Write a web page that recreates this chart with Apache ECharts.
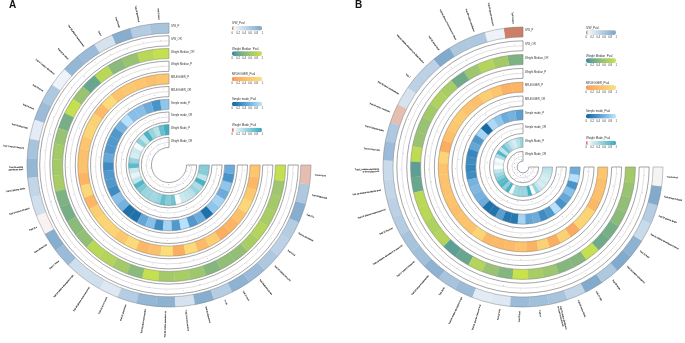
<!DOCTYPE html>
<html><head><meta charset="utf-8">
<script src="https://cdn.jsdelivr.net/npm/echarts@6/dist/echarts.min.js"></script>
<style>html,body{margin:0;padding:0;background:#fff}#c{width:685px;height:343px}</style>
</head><body><div id="c"></div>
<script>
const trackNames=["Weight Mode_OR","Weight Mode_P","Simple mode_OR","Simple mode_P","MR-EGGER_OR","MR-EGGER_P","Weight Median_P","Weight Median_OR","IVW_OR","IVW_P"];
const legendNames=["IVW_Pval","Weight Median_Pval","MR-EGGER_Pval","Simple mode_Pval","Weight Mode_Pval"];
const legendTicks=["0","0.2","0.4","0.6","0.8","1"];

// PLACEHOLDER TEXT: the radial labels are illegible in the reference. Only their length and position follow it.
const aLabels=["Trait 01 level","Trait 02 blood level","Trait 03 ratio","Trait 4","Trait 05 plasma measurement","Trait 06 in serum","Trait 07 relative abundance","Trait 08 count","Trait 09 levels","Trait 10 blood ratio","Trait 11 serum measure","Trait 12 relative\nabundance level","Trait 13 plasma levels","Trait 14 serum measure","Trait 15 x","Trait 16 blood lvl","Trait 17 levels","Trait 18 relative abundance in gut","Trait 19 plasma measurement lvl","Trait 20 serum levels","Trait 21 abundance","Trait 22 blood concentration","Trait 23 relative abundance lvl","Trait 24 serum measure","Trait 25 abundance","Tr. 26","Trait 27 level","Trait 28 plasma levels","Trait 29 relative amounts","Trait 30 lvl","Trait 31 abundance","Trait 32 x","Trait 33 blood lvls","Trait 34 level"];
const bLabels=["Trait 01 level","Trait 02 plasma measure lv","Trait 03 relative abundance","Trait 04 plasma measurement in blood","Trait 05 serum level","Trait 06 relative abundance in blood plasma","Trait 7","Trait 08 blood concentration","Trait 09 serum measures","Trait 10 plasma levels","Trait 11 blood ratio","Trait 12 relative abundance\nin blood plasma lvl","Trait 13 relative abundance level","Trait 14 plasma measurement lvl","Trait 15 blood lvl","Trait 16 relative abundance in serum lvl","Trait 17 plasma measures","Trait 18 serum measurement","Trait 19 lvl","Trait 20 relative abundance in gut","Trait 21 plasma measure level","Trait 22 ratio","Trait 23 level","Trait 24","Trait 25 relative abundance\nin serum measurement","Trait 26 serum levels","Trait 27 ratio","Trait 28 levels","Trait 29 relative abundance","Trait 30 level","Trait 31 relative abundance in blood","Trait 32 plasma levels","Trait 33 serum levels","Trait 34 level"];

// P values: estimated by eye from each cell's colour against the legend ramps.
const aIvwP=[.65,.55,.9,.3,.75,.8,.12,.6,.75,.2,.65,.8,.45,.35,.07,.9,.75,.35,.35,.25,.55,.8,.85,.3,.9,.55,.85,.75,.6,.5,.55,.9,.6,.045];
const aMedianP=[.95,.85,.55,.45,.85,.2,.55,.95,.3,.55,.65,.65,.7,.35,.3,.45,.5,.85,.8,.65,.45,.95,.65,.7,.6,.4,.5,.5,.7,.8,.7,.65,.6,.95];
const aEggerP=[.55,.45,.55,.6,.5,.9,.4,.75,.8,.55,.45,.5,.3,.85,.3,.7,.8,.8,.6,.9,.35,.45,.95,.2,.9,.4,.7,.2,.3,.45,.85,.6,.35,.55];
const aSimpleP=[.75,.35,.55,.7,.7,.95,.6,.4,.4,.4,.5,.3,.4,.4,.3,.7,.6,.1,.1,.5,.7,.3,.85,.4,.95,.4,.55,.1,.75,.85,.55,.75,.35,.55];
const aModeP=[.95,.75,.35,.5,.9,.3,.55,.1,.25,.2,.5,.8,.25,.15,.3,.85,.65,.5,.5,.45,.5,.75,.6,.7,.08,.25,.3,.35,.5,.4,.9,.3,.6,.6];

const bIvwP=[.02,.12,.6,.6,.95,.5,.5,.3,.045,.6,.75,.4,.45,.5,.55,.65,.7,.85,.65,.75,.2,.25,.75,.7,.65,.45,.95,.6,.95,.85,.4,.55,.95,.08];
const bMedianP=[.35,.65,.8,.6,.25,.7,.75,.65,.55,.55,.9,.15,.2,.85,.85,.75,.8,.15,.2,.8,.55,.4,1,.7,.6,.4,.4,.95,.25,.3,.45,.5,.55,.65];
const bEggerP=[.3,.25,.55,.7,.45,.5,.65,.6,.45,.2,.8,.5,.5,.5,.5,.45,.5,.5,.8,.35,.35,.4,.5,.25,.75,.2,.75,.15,.8,.8,.35,.45,.45,.55];
const bSimpleP=[.45,.6,.55,.75,.9,.05,.85,.4,.5,.25,.3,.25,.3,.6,.65,.6,.55,.1,.12,.45,.15,.15,.85,.5,.55,.3,.4,.95,.35,.5,.7,.35,.95,.55];
const bModeP=[.5,.35,.2,.3,.5,.7,.3,.85,.4,.1,.15,.08,.3,.45,.6,.8,.85,.55,.9,.12,.45,.5,.5,.5,.95,.1,.5,.3,.2,.25,.2,.25,.3,.35];

// APPROXIMATE: the OR dots are too faint to read one by one. These hand-typed values only mimic their general spread.
const aIvwOr=[1.01,1.03,.98,1.02,1.04,.97,1.01,1.05,1.02,.96,1.02,1.03,1.04,.98,1.01,1.03,1.02,1.05,.97,1.01,1.03,.99,1.02,1.04,.98,1.01,1.06,1.02,.97,1.03,1.01,1.04,1.02,1.01];
const aMedianOr=[1.02,.98,1.04,1.03,.97,1.05,1.01,1.02,.96,1.03,1.01,1.06,.99,1.02,1.04,1.03,.98,1.02,1.01,1.05,.97,1.03,1.02,1.01,.98,1.04,1.03,.99,1.02,1.05,1.01,.97,1.02,1.03];
const aEggerOr=[1.06,.95,1.03,1.08,.93,1.04,1.02,.96,1.07,1.05,.94,1.03,1.01,1.06,.97,1.08,1.03,.95,1.05,1.02,.93,1.07,1.04,.98,1.03,1.06,.96,1.02,1.08,.94,1.05,1.01,.97,1.04];
const aSimpleOr=[1.05,1.02,.95,1.04,1.07,.97,1.03,.94,1.06,1.02,.96,1.08,1.03,.95,1.05,1.01,1.07,.93,1.04,1.02,.97,1.06,.95,1.03,1.08,.96,1.02,1.05,.94,1.07,1.03,.98,1.05,1.01];
const aModeOr=[1.04,.96,1.06,1.02,.94,1.05,1.07,.97,1.03,.95,1.08,1.02,.93,1.06,1.04,.98,1.03,.95,1.07,1.01,.96,1.05,.94,1.06,1.03,.97,1.08,1.02,.95,1.04,1.06,.93,1.03,.96];

const bIvwOr=[1.03,1.01,1.05,.98,1.02,1.04,.97,1.03,1.06,1.01,.98,1.03,1.02,1.05,.97,1.04,1.01,1.03,.99,1.05,1.02,.97,1.03,1.01,1.04,.98,1.05,1.02,1.03,.96,1.01,1.04,1.02,1.01];
const bMedianOr=[1.01,1.04,.97,1.03,1.05,.98,1.02,1.06,.97,1.01,1.04,1.02,.98,1.05,1.03,.96,1.02,1.04,1.01,.97,1.06,1.03,.98,1.02,1.05,1.01,.96,1.03,1.04,.99,1.02,1.05,.97,1.02];
const bEggerOr=[1.07,.94,1.03,1.05,.96,1.08,1.02,.93,1.06,1.04,.97,1.03,1.07,.95,1.02,1.05,.94,1.08,1.03,.97,1.06,.93,1.04,1.02,.96,1.07,1.03,.95,1.05,1.08,.94,1.02,1.06,.97];
const bSimpleOr=[1.03,1.08,.94,1.05,.97,1.06,1.02,.93,1.07,1.04,.95,1.03,1.08,.96,1.05,1.01,.94,1.07,1.03,.97,1.06,.93,1.04,1.08,.95,1.02,1.06,.97,1.03,.94,1.07,1.05,.96,1.02];
const bModeOr=[1.08,.93,1.05,.96,1.07,1.03,.94,1.06,.97,1.08,1.02,.95,1.05,.93,1.07,.98,1.04,.94,1.06,1.03,.96,1.08,.93,1.05,.97,1.02,1.07,.94,1.06,.96,1.03,1.08,.95,1.04];

const segCount=34;
const ramp=(stops)=>{const out=[];const hex=c=>[1,3,5].map(i=>parseInt(c.slice(i,i+2),16));
  for(let k=0;k<=50;k++){const v=k/50;let i=0;while(i<stops.length-2&&v>stops[i+1][0])i++;
    const [a,ca]=stops[i],[b,cb]=stops[i+1],f=Math.min(1,(v-a)/(b-a));const x=hex(ca),y=hex(cb);
    out.push('rgb('+x.map((n,j)=>Math.round(n+(y[j]-n)*f)).join(',')+')');}return out;};
const palettes={
 ivw:ramp([[0,'#c5654a'],[.03,'#cf8a75'],[.06,'#fbf1ec'],[.1,'#f0f5fa'],[1,'#7aa5ca']]),
 median:ramp([[0,'#2f6ea6'],[.08,'#4f93a0'],[.2,'#68a78d'],[.55,'#99c272'],[1,'#c9e24a']]),
 egger:ramp([[0,'#f4804e'],[.08,'#f9a65e'],[.5,'#fcc26c'],[1,'#fbe07c']]),
 simple:ramp([[0,'#0f649e'],[.3,'#3f8cc2'],[.7,'#88bfe8'],[1,'#bfe6ff']]),
 mode:ramp([[0,'#ee3b2e'],[.04,'#f58a7a'],[.07,'#ffffff'],[.2,'#d6edf1'],[1,'#36aabd']])
};

const panels=[
 {cx:169,cy:165,R:142,spacing:12.7,fill:.8,legendX:232,legendY:[26,51.3,76.7,101.7,127.7],labels:aLabels,
  ps:{9:[aIvwP,'ivw'],7:[aMedianP,'median'],5:[aEggerP,'egger'],3:[aSimpleP,'simple'],1:[aModeP,'mode']},
  ors:{8:aIvwOr,6:aMedianOr,4:aEggerOr,2:aSimpleOr,0:aModeOr}},
 {cx:523,cy:167,R:140,spacing:13.8,fill:.72,legendX:586,legendY:[30.3,58.3,85.3,114,140.7],labels:bLabels,
  ps:{9:[bIvwP,'ivw'],7:[bMedianP,'median'],5:[bEggerP,'egger'],3:[bSimpleP,'simple'],1:[bModeP,'mode']},
  ors:{8:bIvwOr,6:bMedianOr,4:bEggerOr,2:bSimpleOr,0:bModeOr}}
];
const legendOrder=[9,7,5,3,1];
const paletteOf={9:'ivw',7:'median',5:'egger',3:'simple',1:'mode'};

const series=[],visualMaps=[],graphics=[];
const polar=[],angleAxis=[],radiusAxis=[];

panels.forEach((P,pi)=>{
  polar.push({center:[P.cx,P.cy],radius:P.R});
  angleAxis.push({polarIndex:pi,type:'value',min:0,max:segCount*360/270,startAngle:90,clockwise:false,show:false,axisLine:{show:false},splitLine:{show:false},axisLabel:{show:false},axisTick:{show:false}});
  radiusAxis.push({polarIndex:pi,type:'value',min:10-P.R/P.spacing,max:10,show:false,axisLine:{show:false},splitLine:{show:false},axisLabel:{show:false},axisTick:{show:false}});
  const inset=1-P.fill;

  const seriesIdxByTrack={};
  Object.keys(P.ps).forEach(tk=>{
    const t=+tk,vals=P.ps[tk][0];
    seriesIdxByTrack[t]=series.length;
    series.push({type:'custom',coordinateSystem:'polar',polarIndex:pi,clip:false,silent:true,
      data:vals.map((v,i)=>[t,i,v]),encode:{radius:0,angle:1},
      renderItem:(params,api)=>{
        const tv=api.value(0),s=api.value(1);
        const a=api.coord([tv+inset,s]),b=api.coord([tv+1,s+1]);
        const col=api.visual('color');
        return {type:'sector',shape:{cx:P.cx,cy:P.cy,r0:a[2],r:b[2],startAngle:-a[3],endAngle:-b[3],clockwise:false},
          style:{fill:col,stroke:col,lineWidth:.25}};
      }});
  });

  const frameData=trackNames.map((n,t)=>[t,t%2===0?1:0]);
  series.push({type:'custom',coordinateSystem:'polar',polarIndex:pi,clip:false,silent:true,z:3,
    data:frameData,encode:{radius:0},
    renderItem:(params,api)=>{
      const tv=api.value(0),white=api.value(1);
      const a=api.coord([tv+inset,0]),b=api.coord([tv+1,segCount]);
      const kids=[{type:'sector',shape:{cx:P.cx,cy:P.cy,r0:a[2],r:b[2],startAngle:-a[3],endAngle:-b[3],clockwise:false},
        style:{fill:'none',stroke:white?'#666666':'#808080',lineWidth:white?.6:.45}}];
      if(white){
        kids.push({type:'arc',shape:{cx:P.cx,cy:P.cy,r:a[2]+(b[2]-a[2])*.5,startAngle:-a[3],endAngle:-b[3],clockwise:false},
          style:{fill:'none',stroke:'#b4b4b4',lineWidth:.4}});
      }
      return {type:'group',children:kids};
    }});

  Object.keys(P.ors).forEach(tk=>{
    const t=+tk;
    series.push({type:'scatter',coordinateSystem:'polar',polarIndex:pi,silent:true,z:4,symbolSize:.9,
      data:P.ors[tk].map((v,i)=>[t+inset+(1-inset)*(v-.9)/.2,i+.5]),
      itemStyle:{color:(d)=>P.ors[tk][d.dataIndex]>=1?'#e58aa0':'#6b78d6',opacity:.85}});
  });

  series.push({type:'custom',coordinateSystem:'polar',polarIndex:pi,clip:false,silent:true,z:5,
    data:trackNames.map((n,t)=>[t,n]),encode:{radius:0},
    renderItem:(params,api)=>{
      const tv=api.value(0);
      const c=api.coord([tv+inset/2+.5,0]);
      return {type:'text',style:{text:trackNames[tv],x:c[0]+2,y:c[1]-1.5,fontSize:2.7,fontFamily:'Liberation Sans',fill:'#333',align:'left',verticalAlign:'middle'}};
    }});

  series.push({type:'custom',coordinateSystem:'polar',polarIndex:pi,clip:false,silent:true,z:5,
    data:P.labels.map((n,i)=>[10,i]),encode:{radius:0,angle:1},
    renderItem:(params,api)=>{
      const s=api.value(1);
      const c=api.coord([10+4/P.spacing,s+.5]);
      const ang=c[3];const right=Math.cos(ang)>=0;
      return {type:'text',x:c[0],y:c[1],rotation:right?ang:ang-Math.PI,
        style:{text:P.labels[s],x:0,y:0,fontSize:2,lineHeight:2.3,fontFamily:'Liberation Sans',fill:'#111',stroke:'#555',lineWidth:.12,align:right?'left':'right',verticalAlign:'middle'}};
    }});

  legendOrder.forEach((t,li)=>{
    visualMaps.push({type:'continuous',show:true,min:0,max:1,dimension:2,seriesIndex:seriesIdxByTrack[t],
      orient:'horizontal',left:P.legendX,top:P.legendY[li],itemWidth:4.6,itemHeight:30,padding:0,text:null,calculable:false,realtime:false,
      inRange:{color:palettes[paletteOf[t]]},textStyle:{fontSize:1,color:'transparent'}});
    graphics.push({type:'text',left:P.legendX,top:P.legendY[li]-4,style:{text:legendNames[li],fontSize:2.9,fontFamily:'Liberation Sans',fill:'#333'}});
    legendTicks.forEach((tx,k)=>{
      graphics.push({type:'text',left:P.legendX+k*6-(k===0||k===5?.4:1.7),top:P.legendY[li]+5.3,style:{text:tx,fontSize:2.7,fontFamily:'Liberation Sans',fill:'#333'}});
    });
  });
});
graphics.push({type:'text',left:9,top:0,style:{text:'A',fontSize:10,fontWeight:'bold',fontFamily:'Liberation Sans',fill:'#111'}});
graphics.push({type:'text',left:355,top:0,style:{text:'B',fontSize:10,fontWeight:'bold',fontFamily:'Liberation Sans',fill:'#111'}});

const chart=echarts.init(document.getElementById('c'),null,{renderer:'canvas'});
chart.setOption({animation:false,backgroundColor:'#fff',polar,angleAxis,radiusAxis,visualMap:visualMaps,series,graphic:graphics});
</script></body></html>
